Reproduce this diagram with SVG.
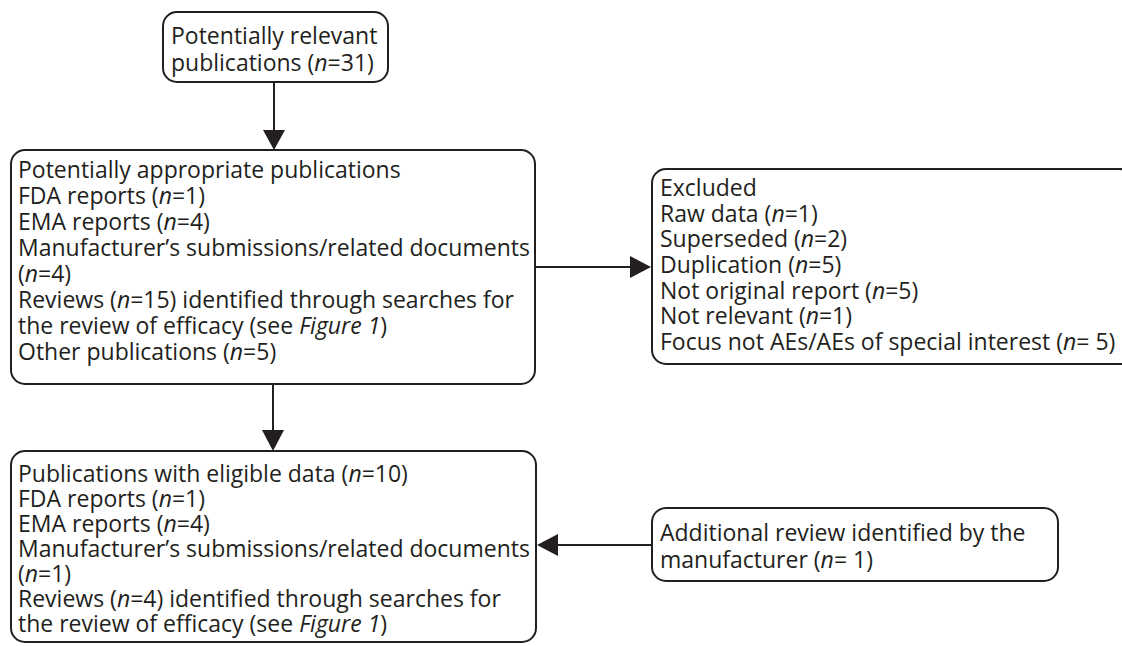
<svg xmlns="http://www.w3.org/2000/svg" width="1122" height="646" viewBox="0 0 1122 646">
<style>
.box{fill:#fff;stroke:#231f20;stroke-width:2}
.t{font-family:"Open Sans","Liberation Sans",sans-serif;font-size:23px;fill:#231f20}
.i{font-style:italic}
.ln{stroke:#231f20;stroke-width:2;fill:none}
.ah{fill:#231f20;stroke:none}
</style>
<rect width="1122" height="646" fill="#fff"/>
<g id="connectors">
<line class="ln" x1="274" y1="82" x2="274" y2="131"/>
<polygon class="ah" points="263,130 285,130 274,150"/>
<line class="ln" x1="535" y1="267" x2="632" y2="267"/>
<polygon class="ah" points="630,256 630,278 651,267"/>
<line class="ln" x1="273" y1="384" x2="273" y2="431"/>
<polygon class="ah" points="262,430 284,430 273,451"/>
<line class="ln" x1="652" y1="545" x2="556" y2="545"/>
<polygon class="ah" points="558,534 558,556 537,545"/>
</g>
<g id="n1">
<rect class="box" x="163" y="12" width="225" height="70" rx="14"/>
<text class="t" x="171" y="44">Potentially relevant</text>
<text class="t" x="171" y="71">publications (<tspan class="i">n</tspan>=31)</text>
</g>
<g id="n2">
<rect class="box" x="11" y="150" width="524" height="234" rx="14"/>
<text class="t" x="18" y="178">Potentially appropriate publications</text>
<text class="t" x="18" y="204">FDA reports (<tspan class="i">n</tspan>=1)</text>
<text class="t" x="18" y="230">EMA reports (<tspan class="i">n</tspan>=4)</text>
<text class="t" x="18" y="256">Manufacturer’s submissions/related documents</text>
<text class="t" x="18" y="282">(<tspan class="i">n</tspan>=4)</text>
<text class="t" x="18" y="308">Reviews (<tspan class="i">n</tspan>=15) identified through searches for</text>
<text class="t" x="18" y="334">the review of efficacy (see <tspan class="i">Figure 1</tspan>)</text>
<text class="t" x="18" y="360">Other publications (<tspan class="i">n</tspan>=5)</text>
</g>
<g id="n3">
<rect class="box" x="652" y="169" width="482" height="195" rx="14"/>
<text class="t" x="660" y="196">Excluded</text>
<text class="t" x="660" y="222">Raw data (<tspan class="i">n</tspan>=1)</text>
<text class="t" x="660" y="247">Superseded (<tspan class="i">n</tspan>=2)</text>
<text class="t" x="660" y="273">Duplication (<tspan class="i">n</tspan>=5)</text>
<text class="t" x="660" y="299">Not original report (<tspan class="i">n</tspan>=5)</text>
<text class="t" x="660" y="324">Not relevant (<tspan class="i">n</tspan>=1)</text>
<text class="t" x="660" y="350">Focus not AEs/AEs of special interest (<tspan class="i">n</tspan>= 5)</text>
</g>
<g id="n4">
<rect class="box" x="11" y="451" width="525" height="191" rx="14"/>
<text class="t" x="18" y="482">Publications with eligible data (<tspan class="i">n</tspan>=10)</text>
<text class="t" x="18" y="507">FDA reports (<tspan class="i">n</tspan>=1)</text>
<text class="t" x="18" y="532">EMA reports (<tspan class="i">n</tspan>=4)</text>
<text class="t" x="18" y="557">Manufacturer’s submissions/related documents</text>
<text class="t" x="18" y="582">(<tspan class="i">n</tspan>=1)</text>
<text class="t" x="18" y="607">Reviews (<tspan class="i">n</tspan>=4) identified through searches for</text>
<text class="t" x="18" y="632">the review of efficacy (see <tspan class="i">Figure 1</tspan>)</text>
</g>
<g id="n5">
<rect class="box" x="652" y="508" width="406" height="73" rx="14"/>
<text class="t" x="660" y="541">Additional review identified by the</text>
<text class="t" x="660" y="568">manufacturer (<tspan class="i">n</tspan>= 1)</text>
</g>
</svg>
